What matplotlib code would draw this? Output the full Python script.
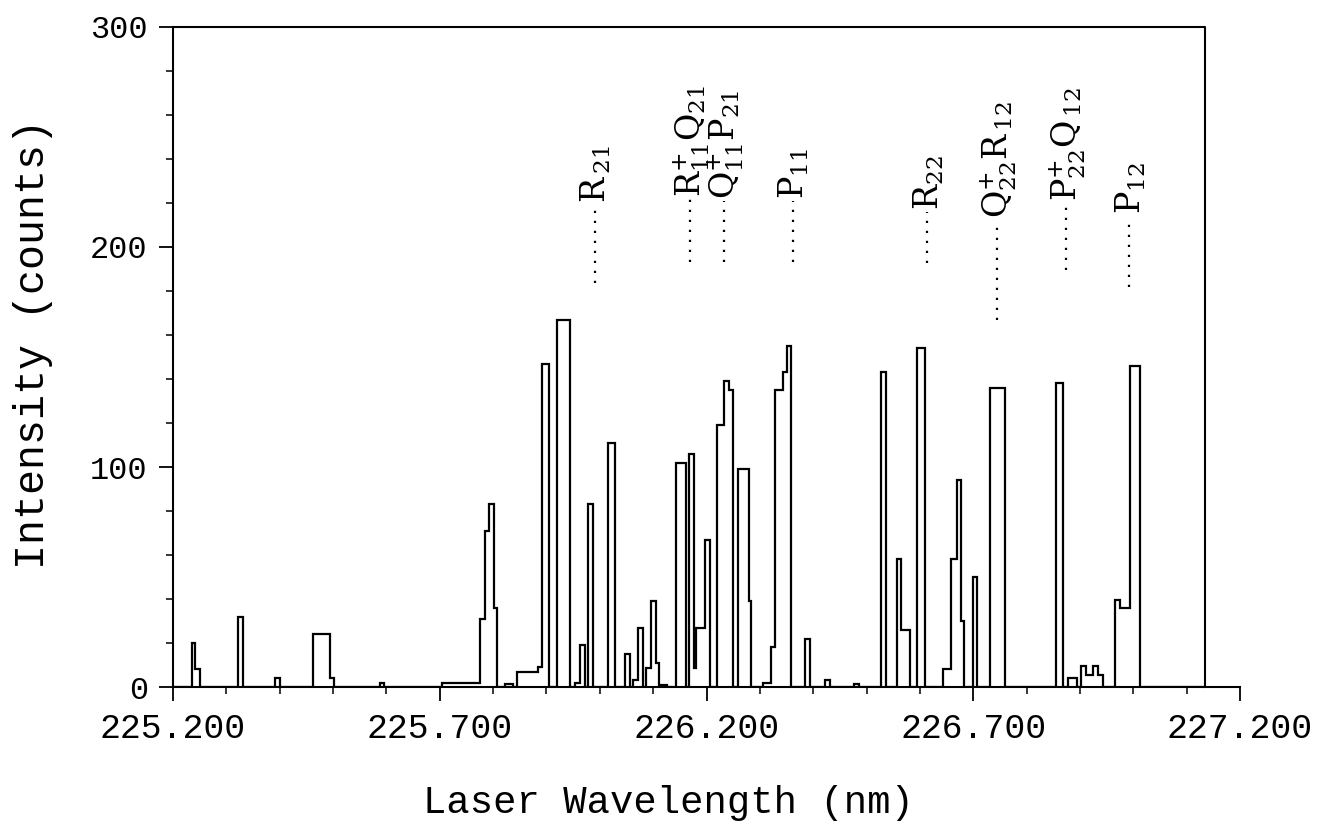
import matplotlib
matplotlib.use("Agg")
import matplotlib.pyplot as plt
from matplotlib.ticker import FixedLocator, MultipleLocator, FormatStrFormatter

# step edges (nm) and counts per step
edges = [
    225.2000, 225.2350, 225.2412, 225.2511, 225.3212, 225.3305, 225.3916, 225.3998,
    225.4627, 225.4946, 225.5015, 225.5876, 225.5957, 225.7037, 225.7755, 225.7843,
    225.7931, 225.8017, 225.8081, 225.8217, 225.8380, 225.8442, 225.8848, 225.8910,
    225.9041, 225.9204, 225.9434, 225.9534, 225.9622, 225.9715, 225.9785, 225.9878,
    226.0159, 226.0283, 226.0470, 226.0564, 226.0627, 226.0721, 226.0815, 226.0871,
    226.0951, 226.1045, 226.1107, 226.1264, 226.1419, 226.1607, 226.1669, 226.1775,
    226.1807, 226.1981, 226.2062, 226.2206, 226.2324, 226.2418, 226.2500, 226.2586,
    226.2792, 226.2843, 226.3062, 226.3217, 226.3292, 226.3436, 226.3511, 226.3592,
    226.3854, 226.3934, 226.4228, 226.4309, 226.4772, 226.4852, 226.5277, 226.5371,
    226.5571, 226.5652, 226.5807, 226.5946, 226.6101, 226.6425, 226.6588, 226.6695,
    226.6770, 226.6831, 226.6994, 226.7069, 226.7305, 226.7586, 226.8554, 226.8680,
    226.8773, 226.8953, 226.9022, 226.9116, 226.9253, 226.9346, 226.9440, 226.9659,
    226.9753, 226.9940, 227.0127, 227.1350,
]
counts = [
    0, 20, 8, 0, 32, 0, 4, 0,
    24, 4, 0, 2, 0, 2, 31, 71,
    83, 36, 0, 1.5, 0, 7, 9, 147,
    0, 167, 0, 2, 19, 0, 83, 0,
    111, 0, 15, 0, 3, 27, 0, 8.5,
    39, 11, 1, 0, 102, 0, 106, 8.5,
    27, 67, 0, 119, 139, 135, 0, 99,
    39, 0, 2, 18, 135, 143, 155, 0,
    22, 0, 3, 0, 1.5, 0, 143, 0,
    58, 26, 0, 154, 0, 8, 58, 94,
    30, 0, 50, 0, 136, 0, 138, 0,
    4, 0, 9.5, 5.5, 9.5, 5.5, 0, 39.5,
    36, 146, 0,
]

x_major = [225.2, 225.7, 226.2, 226.7, 227.2]
frame_right = 227.135

# line assignments: label, wavelength, dotted line bottom / top (counts)
line_labels = [
    r"R$_{\,21}$",
    r"R$_{11}^{+}$Q$_{21}$",
    r"Q$_{11}^{+}$P$_{21}$",
    r"P$_{11}$",
    r"R$_{22}$",
    r"Q$_{22}^{+}$R$_{\,12}$",
    r"P$_{22}^{+}$Q$_{\,12}$",
    r"P$_{12}$",
]
line_wl = [225.9903, 226.1700, 226.2337, 226.3614, 226.6129, 226.7440, 226.8736, 226.9921]
dot_lo = [183.5, 193.3, 193.3, 193.3, 192.6, 167.0, 189.5, 181.8]
dot_hi = [219.0, 221.8, 221.0, 221.0, 215.7, 212.3, 220.0, 213.8]

plt.rcParams["mathtext.fontset"] = "dejavuserif"

fig = plt.figure(figsize=(13.26, 8.30), dpi=100)
ax = fig.add_axes([173 / 1326, 143 / 830, 1067 / 1326, 660 / 830])

ax.stairs(counts, edges, color="black", linewidth=1.6)

for lab, wl, lo, hi in zip(line_labels, line_wl, dot_lo, dot_hi):
    ax.plot([wl, wl], [lo, hi], color="black", linestyle=(0, (1, 3.5)), linewidth=1.6)
    ax.text(wl + 0.003, hi + 1, lab, rotation=90, ha="center", va="bottom",
            fontsize=24, family="DejaVu Serif")

ax.set_xlim(225.2, 227.2)
ax.set_ylim(0, 300)

ax.xaxis.set_major_locator(FixedLocator(x_major))
ax.xaxis.set_minor_locator(MultipleLocator(0.1))
ax.xaxis.set_major_formatter(FormatStrFormatter("%.3f"))
ax.yaxis.set_major_locator(MultipleLocator(100))
ax.yaxis.set_minor_locator(MultipleLocator(20))

ax.tick_params(which="major", direction="out", length=10, width=1.3, pad=8)
ax.tick_params(which="minor", direction="out", length=5, width=1.1)
for lbl in ax.get_xticklabels() + ax.get_yticklabels():
    lbl.set_family("Liberation Mono")
for lbl in ax.get_xticklabels():
    lbl.set_fontsize(25)
for lbl in ax.get_yticklabels():
    lbl.set_fontsize(23)

# frame closes at frame_right; the wavelength axis runs on to 227.2
ax.spines["top"].set_visible(False)
ax.spines["right"].set_visible(False)
ax.spines["left"].set_linewidth(1.5)
ax.spines["bottom"].set_linewidth(1.5)
ax.plot([225.2, frame_right, frame_right], [300, 300, 0], color="black",
        linewidth=1.5, clip_on=False)

ax.set_xlabel("Laser Wavelength (nm)", fontsize=28, family="Liberation Mono")
ax.set_ylabel("Intensity (counts)", fontsize=30, family="Liberation Mono")
ax.xaxis.set_label_coords(0.464, -0.148)
ax.yaxis.set_label_coords(-0.112, 0.52)

fig.savefig("out.png", dpi=100)
